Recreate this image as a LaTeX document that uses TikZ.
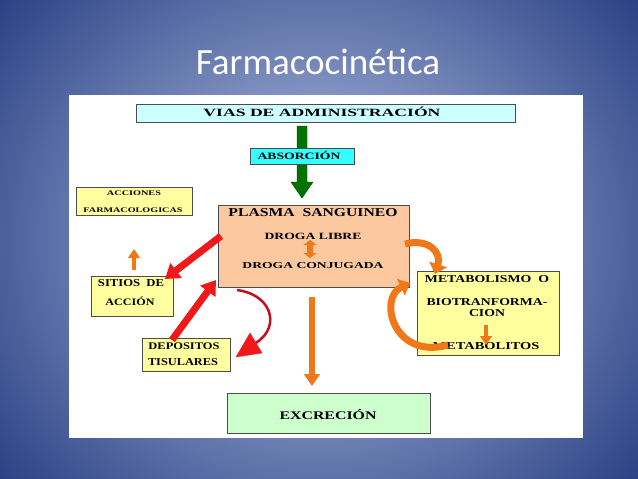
\documentclass[tikz,border=0pt]{standalone}
\usepackage{fontspec}
\usepackage{graphicx}
\setmainfont{Liberation Serif}
\newfontfamily\titlef{Carlito}
\usetikzlibrary{arrows.meta}
\definecolor{bgin}{HTML}{B8C6E8}
\definecolor{bgout}{HTML}{22397E}
\definecolor{ora}{HTML}{F07818}
\definecolor{redd}{HTML}{F01818}
\definecolor{dred}{HTML}{C01020}
\newcommand{\rtxt}[3]{\resizebox{#1pt}{#2pt}{\bfseries #3}}
\begin{document}
\begin{tikzpicture}[x=1pt,y=-1pt,
  bx/.style={draw=black!70,line width=0.6pt},
  tx/.style={inner sep=0pt},
  fat/.style={line width=#1,-{Triangle[length=#1*2,width=#1*2.6]}},
  ]
\useasboundingbox (0,0) rectangle (638,479);
\shade[inner color=bgin,outer color=bgout] (-120,-160) rectangle (758,639);
\node[text=white,font=\titlef\fontsize{37}{44}\selectfont,anchor=base] (title) at (318,74) {Farmacocinética};
\fill[white] (69,95) rectangle (583,438);
% boxes
\path[bx,fill={rgb,255:red,204;green,255;blue,255}] (136,104) rectangle (515,122);
\path[bx,fill={rgb,255:red,252;green,200;blue,160}] (218,205) rectangle (409,287);
\path[bx,fill={rgb,255:red,255;green,255;blue,160}] (76,187) rectangle (192,215);
\path[bx,fill={rgb,255:red,255;green,255;blue,160}] (91,276) rectangle (173,316);
\path[bx,fill={rgb,255:red,255;green,255;blue,160}] (142,338) rectangle (230,371);
\path[bx,fill={rgb,255:red,255;green,255;blue,160}] (417,271) rectangle (559,355);
\path[bx,fill={rgb,255:red,204;green,255;blue,204}] (227,393) rectangle (430,433);
\node[tx] (vias) at (322,112) {\rtxt{237}{9.5}{VIAS DE ADMINISTRACIÓN}};
% green arrow
\draw[draw=green!25!black,fill=green!45!black] (297,126) -- (307,126) -- (307,182) -- (313,182) -- (302,198) -- (291,182) -- (297,182) -- cycle;
\path[bx,fill={rgb,255:red,51;green,255;blue,255}] (250,148) rectangle (354,164);
\node[tx] (abs) at (299,155.5) {\rtxt{83}{8.3}{ABSORCIÓN}};
% texts
\node[tx] (acc1) at (134,193) {\rtxt{54}{4.7}{ACCIONES}};
\node[tx] (acc2) at (133,210) {\rtxt{99}{4.7}{FARMACOLOGICAS}};
\node[tx] (plasma) at (313,213) {\rtxt{169}{8}{PLASMA\ \ SANGUINEO}};
\node[tx] (libre) at (313,236) {\rtxt{97}{6.3}{DROGA LIBRE}};
\node[tx] (conj) at (313,266) {\rtxt{141}{6}{DROGA CONJUGADA}};
\node[tx] (sit1) at (131,283) {\rtxt{66}{7}{SITIOS\ \ DE}};
\node[tx] (sit2) at (130,301.5) {\rtxt{49}{8.5}{ACCIÓN}};
\node[tx] (dep1) at (184,346) {\rtxt{71}{6.7}{DEPOSITOS}};
\node[tx] (dep2) at (183,362) {\rtxt{70}{7}{TISULARES}};
\node[tx] (met1) at (487,279) {\rtxt{124}{7}{METABOLISMO\ \ O}};
\node[tx] (met2) at (487,302) {\rtxt{121}{7}{BIOTRANFORMA-}};
\node[tx] (met2b) at (487,313) {\rtxt{36}{7}{CION}};
\node[tx] (met3) at (486,346) {\rtxt{107}{7}{METABOLITOS}};
\node[tx] (exc) at (328,414.5) {\rtxt{97}{10}{EXCRECIÓN}};
% arrows
\draw[ora,fat=4.5pt,draw=ora] (134,270) -- (134,249);
\draw[ora,line width=6pt,{Triangle[length=5pt,width=13pt]}-{Triangle[length=5pt,width=13pt]}] (310,240) -- (310,258);
\draw[ora,fat=4.5pt] (486,325) -- (486,345);
\draw[redd,fat=7pt] (221,236) -- (165,279);
\draw[redd,fat=7pt] (172,340) -- (216,280);
\draw[dred,line width=2.5pt] (237,290) .. controls (275,295) and (282,332) .. (250,346);
\draw[redd,fill=redd] (236,357) -- (250,333) -- (262,353) -- cycle;
\draw[ora,fat=6pt] (312,297) -- (312,386);
\draw[ora,line width=7pt,-{Triangle[length=10pt,width=18pt]}] (405,244) .. controls (428,238) and (442,252) .. (435,274);
\draw[ora,line width=7pt,-{Triangle[length=10pt,width=18pt]}] (448,345) .. controls (393,360) and (378,298) .. (410,283);
\end{tikzpicture}
\end{document}
